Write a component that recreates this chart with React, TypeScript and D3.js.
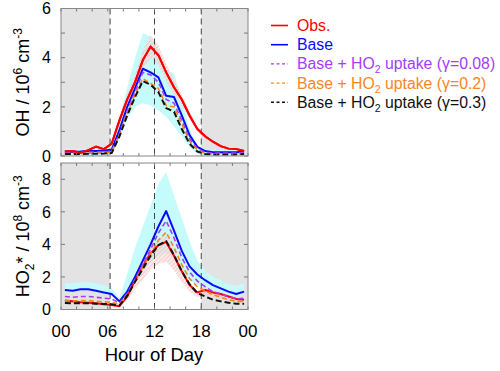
import { useRef, useEffect } from 'react';
import * as d3 from 'd3';

const W = 500;
const H = 371;
const FONT = '"Liberation Sans", Arial, sans-serif';

// hour of day (bin centres)
const hours = [0.5, 1.5, 2.5, 3.5, 4.5, 5.5, 6.5, 7.5, 8.5, 9.5, 10.5, 11.5,
  12.5, 13.5, 14.5, 15.5, 16.5, 17.5, 18.5, 19.5, 20.5, 21.5, 22.5, 23.5];
const nightSpans = [[0, 6.3], [18, 24]];
const dayMarks = [6.3, 12, 18];
const xTickLabels = ['00', '06', '12', '18', '00'];

// OH, 10^6 cm-3
const ohObs = [0.18, 0.2, 0.13, 0.24, 0.38, 0.28, 0.5, 1.45, 2.3, 3.0, 3.9, 4.45,
  4.1, 3.4, 2.8, 2.3, 1.65, 1.1, 0.8, 0.58, 0.4, 0.3, 0.28, 0.2];
const ohObsHi = [0.2, 0.22, 0.15, 0.27, 0.42, 0.31, 0.55, 1.6, 2.5, 3.3, 4.3, 4.9,
  4.5, 3.75, 3.1, 2.5, 1.8, 1.2, 0.88, 0.64, 0.44, 0.33, 0.31, 0.22];
const ohObsLo = [0.16, 0.18, 0.12, 0.21, 0.34, 0.25, 0.45, 1.3, 2.1, 2.7, 3.5, 4.0,
  3.7, 3.05, 2.5, 2.1, 1.5, 1.0, 0.72, 0.52, 0.36, 0.27, 0.25, 0.18];
const ohBase = [0.18, 0.17, 0.18, 0.2, 0.2, 0.22, 0.25, 1.05, 2.0, 2.75, 3.55, 3.4,
  3.2, 2.45, 2.4, 1.65, 0.85, 0.37, 0.2, 0.15, 0.15, 0.15, 0.15, 0.18];
const ohBaseHi = [0.3, 0.3, 0.3, 0.3, 0.3, 0.3, 0.45, 1.5, 2.8, 4.0, 5.0, 4.85,
  4.3, 3.5, 3.35, 2.3, 1.1, 0.4, 0.3, 0.25, 0.25, 0.25, 0.25, 0.3];
const ohBaseLo = [0.05, 0.05, 0.05, 0.05, 0.05, 0.05, 0.08, 0.7, 1.5, 2.0, 2.15, 2.05,
  1.85, 1.6, 1.2, 0.8, 0.35, 0.1, 0.05, 0.05, 0.05, 0.05, 0.05, 0.05];
const ohG008 = [0.15, 0.14, 0.15, 0.16, 0.16, 0.17, 0.2, 0.9, 1.85, 2.6, 3.4, 3.3,
  3.0, 2.3, 2.15, 1.45, 0.7, 0.3, 0.15, 0.12, 0.12, 0.12, 0.12, 0.14];
const ohG02 = [0.1, 0.1, 0.1, 0.11, 0.11, 0.12, 0.15, 0.85, 1.75, 2.5, 3.15, 2.95,
  2.75, 2.05, 2.0, 1.3, 0.6, 0.25, 0.1, 0.08, 0.08, 0.08, 0.08, 0.1];
const ohG03 = [0.08, 0.08, 0.08, 0.09, 0.09, 0.1, 0.12, 0.8, 1.65, 2.4, 3.05, 2.9,
  2.6, 1.95, 1.8, 1.1, 0.5, 0.18, 0.08, 0.06, 0.06, 0.06, 0.06, 0.08];

// HO2*, 10^8 cm-3
const hoObs = [0.55, 0.5, 0.45, 0.42, 0.38, 0.32, 0.28, 0.2, 0.8, 1.8, 2.65, 3.45,
  3.95, 4.15, 3.3, 2.35, 1.5, 1.05, 1.2, 1.05, 0.95, 0.8, 0.65, 0.6];
const hoObsHi = [0.6, 0.55, 0.5, 0.46, 0.42, 0.35, 0.31, 0.22, 0.88, 2.0, 2.9, 3.8,
  4.35, 4.55, 3.6, 2.6, 1.65, 1.15, 1.3, 1.15, 1.05, 0.9, 0.7, 0.65];
const hoObsLo = [0.4, 0.36, 0.33, 0.3, 0.28, 0.23, 0.2, 0.14, 0.55, 1.25, 1.85, 2.45,
  2.8, 2.95, 2.4, 1.7, 1.1, 0.75, 0.85, 0.75, 0.68, 0.57, 0.47, 0.43];
const hoBase = [1.2, 1.15, 1.25, 1.25, 1.15, 1.05, 0.95, 0.5, 1.1, 2.0, 3.0, 4.0,
  5.1, 6.05, 4.85, 3.6, 2.65, 2.15, 1.8, 1.5, 1.3, 1.1, 0.95, 1.1];
const hoBaseHi = [1.65, 1.6, 1.68, 1.68, 1.6, 1.5, 1.3, 0.7, 2.2, 3.8, 5.1, 6.4,
  7.7, 8.45, 7.0, 5.6, 4.2, 3.0, 2.4, 2.0, 1.8, 1.55, 1.45, 1.6];
const hoBaseLo = [1.1, 1.05, 1.15, 1.15, 1.05, 0.95, 0.85, 0.4, 0.9, 1.6, 2.3, 2.9,
  3.3, 3.5, 3.1, 2.4, 1.8, 1.5, 1.35, 1.15, 1.0, 0.9, 0.8, 0.9];
const hoG008 = [0.8, 0.75, 0.8, 0.8, 0.75, 0.7, 0.65, 0.4, 1.0, 1.85, 2.75, 3.7,
  4.7, 5.45, 4.4, 3.2, 2.3, 1.75, 1.4, 1.1, 0.95, 0.8, 0.65, 0.7];
const hoG02 = [0.55, 0.52, 0.55, 0.55, 0.5, 0.47, 0.45, 0.3, 0.9, 1.75, 2.6, 3.4,
  4.25, 4.75, 3.8, 2.75, 1.9, 1.4, 1.15, 0.9, 0.75, 0.6, 0.5, 0.5];
const hoG03 = [0.4, 0.38, 0.38, 0.38, 0.36, 0.34, 0.32, 0.25, 0.85, 1.7, 2.5, 3.3,
  3.95, 4.2, 3.35, 2.35, 1.55, 1.0, 0.8, 0.6, 0.5, 0.42, 0.35, 0.35];

const SERIES = [
  { key: 'obs', label: 'Obs.', color: '#ff0000', dash: null, width: 2 },
  { key: 'base', label: 'Base', color: '#0a0aff', dash: null, width: 2 },
  { key: 'g008', label: 'Base + HO|2| uptake (γ=0.08)', color: '#a43dfa', dash: '5,3', width: 1.6 },
  { key: 'g02', label: 'Base + HO|2| uptake (γ=0.2)', color: '#f7861f', dash: '5,3', width: 1.6 },
  { key: 'g03', label: 'Base + HO|2| uptake (γ=0.3)', color: '#111111', dash: '6,3', width: 2 },
];

const panels = [
  {
    top: 8.5, bottom: 156, max: 6, minorStep: 1, labelStep: 2,
    band: [ohBaseLo, ohBaseHi], obsBand: [ohObsLo, ohObsHi],
    lines: { obs: ohObs, base: ohBase, g008: ohG008, g02: ohG02, g03: ohG03 },
    kind: 'oh', showX: false,
  },
  {
    top: 163, bottom: 309.5, max: 9, minorStep: 2, labelStep: 2,
    band: [hoBaseLo, hoBaseHi], obsBand: [hoObsLo, hoObsHi],
    lines: { obs: hoObs, base: hoBase, g008: hoG008, g02: hoG02, g03: hoG03 },
    kind: 'ho2', showX: true,
  },
];

export default function App() {
  const svgRef = useRef(null);

  useEffect(() => {
    const svg = d3.select(svgRef.current);
    svg.selectAll('*').remove();

    const defs = svg.append('defs');
    const pat = defs.append('pattern')
      .attr('id', 'hatch')
      .attr('patternUnits', 'userSpaceOnUse')
      .attr('width', 3)
      .attr('height', 3)
      .attr('patternTransform', 'rotate(45)');
    pat.append('rect').attr('width', 3).attr('height', 3).attr('fill', '#ffd6d6').attr('opacity', 0.5);
    pat.append('line').attr('x1', 0).attr('y1', 0).attr('x2', 0).attr('y2', 3)
      .attr('stroke', '#f4b0b0').attr('stroke-width', 1.1);

    const x = d3.scaleLinear().domain([0, 24]).range([61, 248]);
    const hourTicks = d3.range(0, 25, 2);

    panels.forEach((p, pi) => {
      const y = d3.scaleLinear().domain([0, p.max]).range([p.bottom, p.top]);
      const g = svg.append('g');
      const clipId = `clip${pi}`;
      defs.append('clipPath').attr('id', clipId)
        .append('rect').attr('x', 61).attr('y', p.top)
        .attr('width', 248 - 61).attr('height', p.bottom - p.top);
      const plot = g.append('g').attr('clip-path', `url(#${clipId})`);

      // night shading
      plot.selectAll('.night').data(nightSpans).join('rect')
        .attr('x', (d) => x(d[0]))
        .attr('y', p.top)
        .attr('width', (d) => x(d[1]) - x(d[0]))
        .attr('height', p.bottom - p.top)
        .attr('fill', '#e3e3e3');

      // base model range
      const area = d3.area()
        .x((_, i) => x(hours[i]))
        .y0((d) => y(d[0]))
        .y1((d) => y(d[1]));
      plot.append('path')
        .datum(hours.map((_, i) => [p.band[0][i], p.band[1][i]]))
        .attr('d', area)
        .attr('fill', '#c6fbfb');

      // observation uncertainty
      plot.append('path')
        .datum(hours.map((_, i) => [p.obsBand[0][i], p.obsBand[1][i]]))
        .attr('d', area)
        .attr('fill', 'url(#hatch)');

      // sunrise / noon / sunset
      plot.selectAll('.mark').data(dayMarks).join('line')
        .attr('x1', (d) => x(d)).attr('x2', (d) => x(d))
        .attr('y1', p.top).attr('y2', p.bottom)
        .attr('stroke', '#444')
        .attr('stroke-width', 1)
        .attr('stroke-dasharray', '6,4');

      const line = d3.line()
        .x((_, i) => x(hours[i]))
        .y((d) => y(d));
      const order = ['obs', 'base', 'g008', 'g02', 'g03'];
      order.forEach((k) => {
        const s = SERIES.find((e) => e.key === k);
        plot.append('path')
          .datum(p.lines[k])
          .attr('d', line)
          .attr('fill', 'none')
          .attr('stroke', s.color)
          .attr('stroke-width', s.width)
          .attr('stroke-dasharray', s.dash)
          .attr('stroke-linejoin', 'round');
      });
      // obs drawn on top in the OH panel
      if (p.kind === 'oh') {
        plot.append('path')
          .datum(p.lines.obs)
          .attr('d', line)
          .attr('fill', 'none')
          .attr('stroke', '#ff0000')
          .attr('stroke-width', 2);
      }

      // ticks (inward, all four sides)
      const yTicks = d3.range(0, p.max + 0.001, p.minorStep);
      const tickColor = '#777';
      g.selectAll('.yl').data(yTicks).join('line')
        .attr('x1', 61).attr('x2', 65)
        .attr('y1', (d) => y(d)).attr('y2', (d) => y(d))
        .attr('stroke', tickColor);
      g.selectAll('.yr').data(yTicks).join('line')
        .attr('x1', 244).attr('x2', 248)
        .attr('y1', (d) => y(d)).attr('y2', (d) => y(d))
        .attr('stroke', tickColor);
      g.selectAll('.xt').data(hourTicks).join('line')
        .attr('x1', (d) => x(d)).attr('x2', (d) => x(d))
        .attr('y1', p.top).attr('y2', p.top + 3)
        .attr('stroke', tickColor);
      g.selectAll('.xb').data(hourTicks).join('line')
        .attr('x1', (d) => x(d)).attr('x2', (d) => x(d))
        .attr('y1', p.bottom).attr('y2', p.bottom - 3)
        .attr('stroke', tickColor);

      // frame
      g.append('rect')
        .attr('x', 61).attr('y', p.top)
        .attr('width', 248 - 61).attr('height', p.bottom - p.top)
        .attr('fill', 'none')
        .attr('stroke', '#888')
        .attr('stroke-width', 1);

      // y labels
      g.selectAll('.ylab').data(d3.range(0, p.max + 0.001, p.labelStep)).join('text')
        .attr('x', 51)
        .attr('y', (d) => y(d))
        .attr('dy', '0.36em')
        .attr('text-anchor', 'end')
        .attr('font-family', FONT)
        .attr('font-size', 16)
        .attr('fill', '#000')
        .text((d) => d);

      // y title
      const t = g.append('text')
        .attr('transform', `translate(29,${(p.top + p.bottom) / 2}) rotate(-90)`)
        .attr('text-anchor', 'middle')
        .attr('font-family', FONT)
        .attr('font-size', 18)
        .attr('fill', '#000');
      if (p.kind === 'oh') {
        t.append('tspan').text('OH / 10');
        t.append('tspan').attr('font-size', 12).attr('dy', -7).text('6');
        t.append('tspan').attr('dy', 7).text(' cm');
        t.append('tspan').attr('font-size', 12).attr('dy', -7).text('-3');
      } else {
        t.append('tspan').text('HO');
        t.append('tspan').attr('font-size', 12).attr('dy', 5).text('2');
        t.append('tspan').attr('dy', -5).text('* / 10');
        t.append('tspan').attr('font-size', 12).attr('dy', -7).text('8');
        t.append('tspan').attr('dy', 7).text(' cm');
        t.append('tspan').attr('font-size', 12).attr('dy', -7).text('-3');
      }

      if (p.showX) {
        g.selectAll('.xlab').data(xTickLabels).join('text')
          .attr('x', (_, i) => x(i * 6))
          .attr('y', 337)
          .attr('text-anchor', 'middle')
          .attr('font-family', FONT)
          .attr('font-size', 17)
          .attr('fill', '#000')
          .text((d) => d);
        g.append('text')
          .attr('x', 154)
          .attr('y', 361)
          .attr('text-anchor', 'middle')
          .attr('font-family', FONT)
          .attr('font-size', 18.5)
          .attr('fill', '#000')
          .text('Hour of Day');
      }
    });

    // legend
    const leg = svg.append('g');
    SERIES.forEach((s, i) => {
      const cy = 25.5 + i * 19.2;
      leg.append('line')
        .attr('x1', 271).attr('x2', 288)
        .attr('y1', cy).attr('y2', cy)
        .attr('stroke', s.color)
        .attr('stroke-width', s.dash ? 1.4 : 1.6)
        .attr('stroke-dasharray', s.dash ? '3,2.5' : null);
      const txt = leg.append('text')
        .attr('x', 297)
        .attr('y', cy + 5.5)
        .attr('font-family', FONT)
        .attr('font-size', 15.8)
        .attr('fill', s.color);
      s.label.split('|').forEach((part, j) => {
        if (j === 1) {
          txt.append('tspan').attr('font-size', 10.5).attr('dy', 4).text(part);
        } else if (j === 2) {
          txt.append('tspan').attr('dy', -4).text(part);
        } else {
          txt.append('tspan').text(part);
        }
      });
    });
  }, []);

  return (
    <svg
      ref={svgRef}
      width={W}
      height={H}
      style={{ position: 'absolute', left: 0, top: 0, background: '#fff' }}
    />
  );
}
